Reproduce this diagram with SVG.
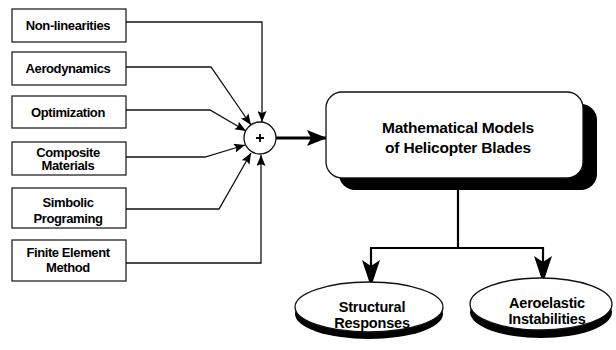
<svg xmlns="http://www.w3.org/2000/svg" width="616" height="350" viewBox="0 0 616 350">
  <style>
    .box { fill: #fff; stroke: #111; stroke-width: 1.2; }
    .lbl { font-family: "Liberation Sans", Arial, sans-serif; font-weight: bold; fill: #000; text-anchor: middle; }
    .small { font-size: 13px; letter-spacing: -0.4px; }
    .big { font-size: 15.5px; letter-spacing: -0.2px; }
    .mid { font-size: 14.5px; letter-spacing: -0.2px; }
    .thin { fill: none; stroke: #111; stroke-width: 1.3; }
    .thick { fill: none; stroke: #000; stroke-width: 3; }
    .med { fill: none; stroke: #000; stroke-width: 2.2; }
  </style>
  <defs>
    <marker id="ah" markerUnits="userSpaceOnUse" markerWidth="11" markerHeight="9" refX="11" refY="4.5" orient="auto">
      <path d="M0,0 L11,4.5 L0,9 L2,4.5 z" fill="#000"/>
    </marker>
    <marker id="ahBig" markerUnits="userSpaceOnUse" markerWidth="20" markerHeight="16" refX="20" refY="8" orient="auto">
      <path d="M0,0 L20,8 L0,16 L4,8 z" fill="#000"/>
    </marker>
    <marker id="ahDown" markerUnits="userSpaceOnUse" markerWidth="27" markerHeight="18" refX="27" refY="9" orient="auto">
      <path d="M0,0 L27,9 L0,18 L6,9 z" fill="#000"/>
    </marker>
  </defs>

  <!-- connectors -->
  <g id="connectors">
    <path class="thin" d="M126,22 H262 V122" marker-end="url(#ah)"/>
    <path class="thin" d="M126,67 H211 L251,125" marker-end="url(#ah)"/>
    <path class="thin" d="M126,110 H210 L246,131" marker-end="url(#ah)"/>
    <path class="thin" d="M126,157 H205 L245,145" marker-end="url(#ah)"/>
    <path class="thin" d="M126,209 H219 L251,153" marker-end="url(#ah)"/>
    <path class="thin" d="M126,263 H261 V155" marker-end="url(#ah)"/>
    <path class="thick" d="M276,138 H327" marker-end="url(#ahBig)"/>
    <path class="med" d="M458,190 V248"/>
    <path class="med" d="M370,248 H543"/>
    <path class="med" d="M371,247 V287" marker-end="url(#ahDown)"/>
    <path class="med" d="M543,247 V283" marker-end="url(#ahDown)"/>
  </g>

  <!-- input boxes -->
  <g id="nonlinearities">
    <rect class="box" x="12" y="9" width="114" height="33"/>
    <text class="lbl small" x="68" y="30">Non-linearities</text>
  </g>
  <g id="aerodynamics">
    <rect class="box" x="12" y="52" width="114" height="33"/>
    <text class="lbl small" x="68" y="73">Aerodynamics</text>
  </g>
  <g id="optimization">
    <rect class="box" x="12" y="96" width="114" height="32"/>
    <text class="lbl small" x="68" y="116.5">Optimization</text>
  </g>
  <g id="composite">
    <rect class="box" x="12" y="142" width="114" height="33"/>
    <text class="lbl small" x="68" y="156.5">Composite</text>
    <text class="lbl small" x="68" y="170">Materials</text>
  </g>
  <g id="simbolic">
    <rect class="box" x="12" y="188" width="114" height="40"/>
    <text class="lbl small" x="68" y="206.5">Simbolic</text>
    <text class="lbl small" x="68" y="222.5">Programing</text>
  </g>
  <g id="fem">
    <rect class="box" x="12" y="240" width="114" height="41"/>
    <text class="lbl small" x="68" y="256.5">Finite Element</text>
    <text class="lbl small" x="68" y="271.5">Method</text>
  </g>

  <!-- summing junction -->
  <g id="sum">
    <circle cx="260" cy="138" r="16" fill="#fff" stroke="#111" stroke-width="1.3"/>
    <path d="M256,138 H264 M260,134 V142" stroke="#000" stroke-width="1.8"/>
  </g>

  <!-- central model block -->
  <g id="models">
    <rect x="339" y="104" width="258" height="86" rx="16" fill="#000"/>
    <rect x="326" y="92" width="257" height="86" rx="16" fill="#fff" stroke="#111" stroke-width="1.3"/>
    <text class="lbl big" x="458" y="133">Mathematical Models</text>
    <text class="lbl big" x="458" y="153">of Helicopter Blades</text>
  </g>

  <!-- outputs -->
  <g id="structural">
    <ellipse cx="369" cy="314" rx="74" ry="25" fill="#000"/>
    <ellipse cx="369" cy="307" rx="74" ry="25" fill="#fff" stroke="#111" stroke-width="1.3"/>
    <text class="lbl mid" x="372" y="312">Structural</text>
    <text class="lbl mid" x="372" y="328">Responses</text>
  </g>
  <g id="aeroelastic">
    <ellipse cx="541" cy="312" rx="71" ry="26" fill="#000"/>
    <ellipse cx="541" cy="304" rx="71" ry="26" fill="#fff" stroke="#111" stroke-width="1.3"/>
    <text class="lbl mid" x="547" y="308">Aeroelastic</text>
    <text class="lbl mid" x="547" y="324">Instabilities</text>
  </g>
</svg>
